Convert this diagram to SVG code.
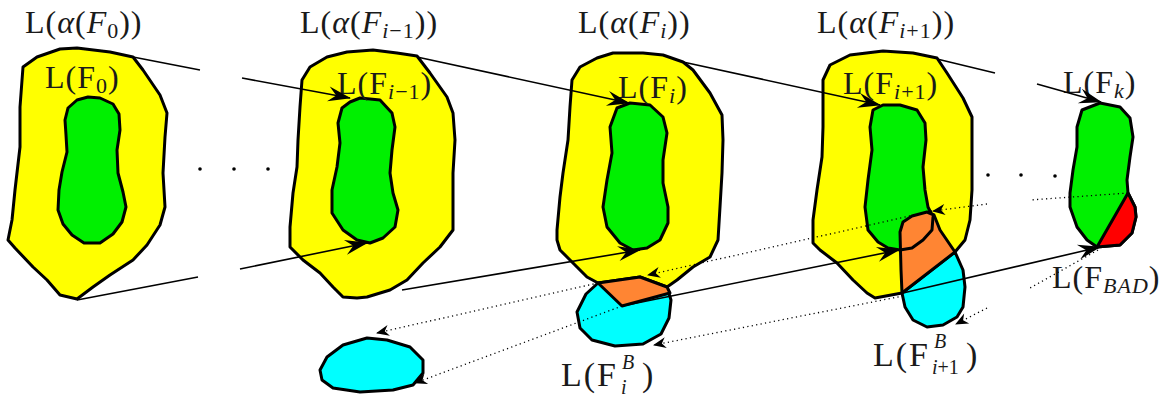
<svg xmlns="http://www.w3.org/2000/svg" width="1170" height="396" viewBox="0 0 1170 396">
<style>
.o{stroke:#000;stroke-width:3;stroke-linejoin:round;stroke-linecap:round}
.y{fill:#ffff00}.g{fill:#00f000}.c{fill:#00ffff}.or{fill:#ff8533}.r{fill:#ff0000}
.ln{fill:none;stroke:#000;stroke-width:1.6}
.dt{fill:none;stroke:#000;stroke-width:1.3;stroke-dasharray:1.2 3.3}
.t{font-family:"Liberation Serif","Times New Roman",serif;font-size:32px;fill:#1a1a1a;letter-spacing:1px}
.b{font-size:34px;letter-spacing:2px}
.s{font-size:22px}
.ss{font-size:20px;letter-spacing:0}
.i{font-style:italic}
</style>
<defs>
<marker id="a" markerUnits="userSpaceOnUse" markerWidth="30" markerHeight="20" viewBox="-25 -10 30 20" refX="0" refY="0" orient="auto"><path d="M1,0 L-22,-7.5 L-14,0 L-22,7.5 Z" fill="#000"/></marker>
<marker id="sa" markerUnits="userSpaceOnUse" markerWidth="18" markerHeight="14" viewBox="-15 -7 18 14" refX="0" refY="0" orient="auto"><path d="M1,0 L-12,-5.5 L-8,0 L-12,5.5 Z" fill="#000"/></marker>
</defs>

<g id="frame-F0">
<path class="y o" d="M23,67 L37,57 L60,49 L77,48 L110,52 L133,57 L143,70 L160,95 L167,113 L165,137 L163,173 L165,207 L160,225 L147,245 L133,260 L110,275 L93,287 L77,299 L60,295 L47,280 L33,267 L15,248 L8,240 L12,220 L15,190 L20,147 L20,107 Z"/>
<path class="g o" d="M88,97 L100,98 L113,104 L119,114 L120,130 L117,150 L118,173 L123,192 L126,207 L122,222 L113,234 L100,243 L84,243 L72,235 L63,224 L58,210 L59,190 L62,172 L67,152 L66,135 L65,120 L68,108 L77,100 Z"/>
<text class="t" x="25" y="33">L(<tspan class="i">α</tspan>(<tspan class="i">F</tspan><tspan class="s" dy="5">0</tspan><tspan dy="-5">))</tspan></text>
<text class="t" x="45" y="88">L(F<tspan class="s" dy="5">0</tspan><tspan dy="-5">)</tspan></text>
</g>

<g id="frame-Fim1">
<path class="y o" d="M302,80 L310,67 L327,57 L347,52 L373,50 L397,53 L417,56 L430,73 L447,97 L453,113 L455,140 L453,173 L453,207 L453,230 L440,247 L423,263 L407,280 L390,290 L367,297 L357,298 L343,297 L333,287 L320,273 L303,260 L290,247 L290,227 L293,193 L297,167 L298,140 L300,107 Z"/>
<path class="g o" d="M360,98 L380,100 L392,113 L395,127 L392,150 L390,173 L393,193 L398,210 L395,227 L383,238 L370,243 L357,240 L343,230 L332,213 L332,190 L337,167 L340,143 L338,123 L342,108 L350,102 Z"/>
<text class="t" x="300" y="33">L(<tspan class="i">α</tspan>(<tspan class="i">F</tspan><tspan class="s i" dy="5">i</tspan><tspan class="s" dy="0">−1</tspan><tspan dy="-5">))</tspan></text>
<text class="t" x="337" y="94">L(F<tspan class="s i" dy="5">i</tspan><tspan class="s">−1</tspan><tspan dy="-5">)</tspan></text>
</g>

<g id="frame-Fi">
<path class="y o" d="M572,80 L580,67 L597,58 L613,53 L643,53 L663,55 L683,62 L693,70 L710,93 L722,115 L723,140 L722,173 L720,207 L718,240 L710,257 L693,267 L677,280 L667,287 L598,283 L587,277 L573,263 L560,250 L557,240 L557,230 L560,197 L563,173 L568,140 L570,107 Z"/>
<path class="g o" d="M630,103 L650,105 L663,117 L667,133 L663,160 L663,183 L668,207 L668,223 L660,240 L647,248 L633,250 L620,243 L607,227 L603,207 L607,180 L612,153 L610,127 L617,108 Z"/>
<path class="c o" d="M598,283 L640,277 L667,287 L671,300 L669,318 L661,334 L643,344 L615,346 L592,340 L580,328 L577,312 L586,294 Z"/>
<path class="or o" d="M598,283 L640,277 L667,287 L670,293 L622,306 Z"/>
<text class="t" x="578" y="33">L(<tspan class="i">α</tspan>(<tspan class="i">F</tspan><tspan class="s i" dy="5">i</tspan><tspan dy="-5">))</tspan></text>
<text class="t" x="618" y="98">L(F<tspan class="s i" dy="5">i</tspan><tspan dy="-5">)</tspan></text>
<text class="t b" x="561" y="386">L(F</text>
<text class="t ss i" x="622" y="369">B</text>
<text class="t ss i" x="621" y="394">i</text>
<text class="t b" x="642" y="386">)</text>
</g>

<g id="frame-Fip1">
<path class="y o" d="M823,80 L830,65 L850,55 L883,51 L913,53 L937,58 L947,73 L963,98 L972,117 L972,150 L972,190 L970,220 L965,240 L955,252 L902,293 L875,298 L867,293 L853,280 L837,263 L820,250 L813,243 L813,220 L817,190 L822,157 L823,127 L823,107 Z"/>
<path class="g o" d="M883,105 L900,105 L917,110 L925,123 L926,140 L923,167 L925,190 L928,207 L933,217 L932,230 L923,240 L912,248 L900,250 L888,248 L878,242 L868,230 L865,207 L868,180 L872,150 L870,127 L873,110 Z"/>
<path class="c o" d="M955,252 L963,270 L965,287 L963,307 L957,317 L943,325 L927,327 L913,320 L905,307 L902,293 Z"/>
<path class="or o" d="M900,232 L903,222 L912,216 L927,212 L934,215 L940,230 L955,252 L902,293 L901,270 Z"/>
<path class="o" fill="none" d="M900,250 L912,248 L923,240 L932,230 L933,217"/>
<text class="t" x="817" y="33">L(<tspan class="i">α</tspan>(<tspan class="i">F</tspan><tspan class="s i" dy="5">i</tspan><tspan class="s">+1</tspan><tspan dy="-5">))</tspan></text>
<text class="t" x="843" y="94">L(F<tspan class="s i" dy="5">i</tspan><tspan class="s">+1</tspan><tspan dy="-5">)</tspan></text>
<text class="t b" x="873" y="366">L(F</text>
<text class="t ss i" x="934" y="348">B</text>
<text class="t ss" x="932" y="374"><tspan class="i">i</tspan>+1</text>
<text class="t b" x="966" y="366">)</text>
</g>

<g id="frame-Fk">
<path class="g o" d="M1082,110 L1100,103 L1120,107 L1130,118 L1133,137 L1130,157 L1127,180 L1128,193 L1135,207 L1136,217 L1132,233 L1120,245 L1097,247 L1087,240 L1077,227 L1070,207 L1070,193 L1073,170 L1077,147 L1077,127 Z"/>
<path class="r o" d="M1128,193 L1135,207 L1136,217 L1132,233 L1120,245 L1097,247 Z"/>
<text class="t" x="1063" y="93">L(F<tspan class="s i" dy="5">k</tspan><tspan dy="-5">)</tspan></text>
<text class="t" x="1052" y="288">L(F<tspan class="s i" dy="5">BAD</tspan><tspan dy="-5">)</tspan></text>
</g>

<g id="small-B">
<path class="c o" d="M322,380 L320,370 L327,357 L343,345 L367,338 L387,340 L410,347 L423,360 L423,373 L413,385 L393,390 L360,392 L333,388 Z"/>
</g>

<g id="dots">
<circle cx="200" cy="169" r="1.8"/><circle cx="234" cy="169" r="1.8"/><circle cx="268" cy="169" r="1.8"/>
<circle cx="988" cy="175" r="1.8"/><circle cx="1021" cy="175" r="1.8"/><circle cx="1055" cy="176" r="1.8"/>
</g>

<g id="connectors">
<path class="ln" d="M133,57 L200,70"/>
<path class="ln" d="M242,78 L350,98" marker-end="url(#a)"/>
<path class="ln" d="M417,57 L629,103" marker-end="url(#a)"/>
<path class="ln" d="M683,62 L880,105" marker-end="url(#a)"/>
<path class="ln" d="M937,59 L995,73"/>
<path class="ln" d="M1037,84 L1101,102" marker-end="url(#a)"/>
<path class="ln" d="M77,300 L198,277"/>
<path class="ln" d="M240,269 L367,243" marker-end="url(#a)"/>
<path class="ln" d="M402,290 L640,250" marker-end="url(#a)"/>
<path class="ln" d="M622,306 L899,250" marker-end="url(#a)"/>
<path class="ln" d="M903,293 L1100,247" marker-end="url(#a)"/>
<path class="dt" d="M1128,193 L1030,200 M987,204 L933,211" marker-end="url(#sa)"/>
<path class="dt" d="M932,211 L648,275" marker-end="url(#sa)"/>
<path class="dt" d="M598,283 L377,333" marker-end="url(#sa)"/>
<path class="dt" d="M1098,250 L1030,288 M987,308 L956,324" marker-end="url(#sa)"/>
<path class="dt" d="M903,296 L654,345" marker-end="url(#sa)"/>
<path class="dt" d="M622,306 L415,383" marker-end="url(#sa)"/>
</g>
</svg>
